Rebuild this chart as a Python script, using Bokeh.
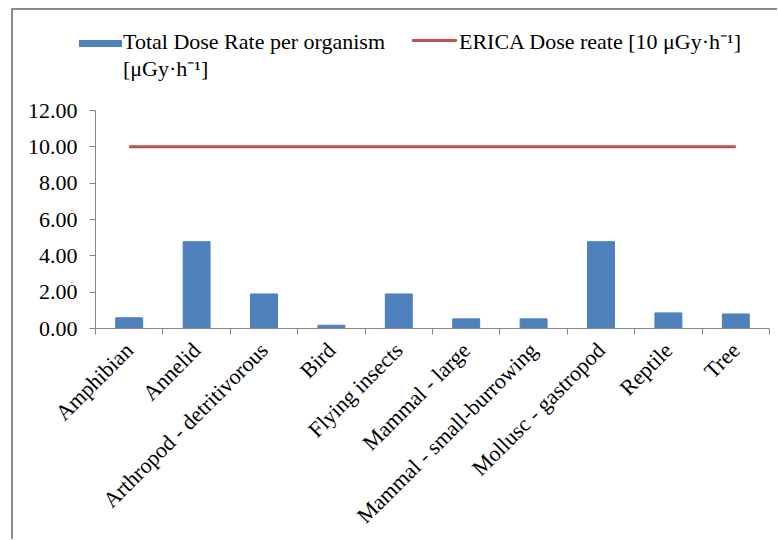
import math
from bokeh.plotting import figure
from bokeh.layouts import column
from bokeh.models import (Range1d, FixedTicker, LinearAxis, NumeralTickFormatter,
                          ColumnDataSource, Div)
from bokeh.embed import file_html
from bokeh.resources import INLINE

categories = ["Amphibian", "Annelid", "Arthropod - detritivorous", "Bird",
              "Flying insects", "Mammal - large", "Mammal - small-burrowing",
              "Mollusc - gastropod", "Reptile", "Tree"]
dose_rate = [0.59, 4.78, 1.90, 0.18, 1.90, 0.53, 0.53, 4.78, 0.86, 0.80]
erica_rate = [10, 10, 10, 10, 10, 10, 10, 10, 10, 10]
y_ticks = [0, 2, 4, 6, 8, 10, 12]

series1_name = ["Total Dose Rate per organism", "[\u03bcGy\u00b7h\u207b\u00b9]"]
series2_name = "ERICA Dose reate [10 \u03bcGy\u00b7h\u207b\u00b9]"

FONT = "Liberation Serif"
FS = "22px"
AXIS_GREY = "#868686"
BAR_BLUE = "#4F81BD"
LINE_RED = "#C0504D"
W = 764
LEG_H = 80

centers = [i + 0.5 for i in range(len(categories))]
bounds = [i for i in range(len(categories) + 1)]

src = ColumnDataSource(dict(x=centers, top=dose_rate, erica=erica_rate, cat=categories))

# ---------------- legend strip (HTML) ----------------
legend_html = f"""
<div style="position:relative;width:{W}px;height:{LEG_H}px;font-family:'{FONT}';
            font-size:{FS};color:black;line-height:27px;white-space:nowrap;">
  <div style="position:absolute;left:66px;top:30px;width:43px;height:7px;
              background:{BAR_BLUE};"></div>
  <div style="position:absolute;left:110px;top:18px;">{series1_name[0]}<br>{series1_name[1]}</div>
  <div style="position:absolute;left:399px;top:29px;width:45px;height:3px;
              background:{LINE_RED};border-radius:1px;"></div>
  <div style="position:absolute;left:446px;top:18px;">{series2_name}</div>
</div>
"""
legend_div = Div(text=legend_html, width=W, height=LEG_H, margin=0)

# ---------------- chart ----------------
p = figure(width=W, height=449, output_backend="svg", toolbar_location=None,
           x_range=Range1d(0, len(categories)), y_range=Range1d(0, max(y_ticks)),
           min_border_left=82, min_border_right=8, min_border_top=20, min_border_bottom=210,
           x_axis_type=None, y_axis_type=None)
p.outline_line_color = None
p.xgrid.visible = False
p.ygrid.visible = False
p.margin = 0

p.vbar(x="x", top="top", width=0.4, source=src, fill_color=BAR_BLUE,
       line_color=BAR_BLUE, line_width=1)
p.line(x="x", y="erica", source=src, line_color=LINE_RED, line_width=3)

yaxis = LinearAxis(ticker=FixedTicker(ticks=y_ticks, minor_ticks=[]),
                   formatter=NumeralTickFormatter(format="0.00"))
yaxis.axis_line_color = AXIS_GREY
yaxis.major_tick_line_color = AXIS_GREY
yaxis.major_tick_out = 6
yaxis.major_tick_in = 0
yaxis.minor_tick_line_color = None
yaxis.major_label_text_font = FONT
yaxis.major_label_text_font_size = FS
yaxis.major_label_text_color = "black"
yaxis.major_label_standoff = 12
p.add_layout(yaxis, "left")

xaxis = LinearAxis(ticker=FixedTicker(ticks=centers, minor_ticks=bounds))
xaxis.major_label_overrides = {c: n for c, n in zip(centers, categories)}
xaxis.axis_line_color = AXIS_GREY
xaxis.major_tick_line_color = None
xaxis.major_tick_out = 0
xaxis.major_tick_in = 0
xaxis.minor_tick_line_color = AXIS_GREY
xaxis.minor_tick_out = 6
xaxis.minor_tick_in = 0
xaxis.major_label_orientation = math.pi / 4
xaxis.major_label_text_font = FONT
xaxis.major_label_text_font_size = FS
xaxis.major_label_text_color = "black"
xaxis.major_label_standoff = 12
p.add_layout(xaxis, "below")

layout = column(legend_div, p, spacing=0)
layout.styles = {"border-left": "2px solid #8c8c8c", "border-top": "2px solid #8c8c8c",
                 "margin-left": "11px", "margin-top": "8px"}

open("out.html", "w").write(file_html(layout, INLINE))
